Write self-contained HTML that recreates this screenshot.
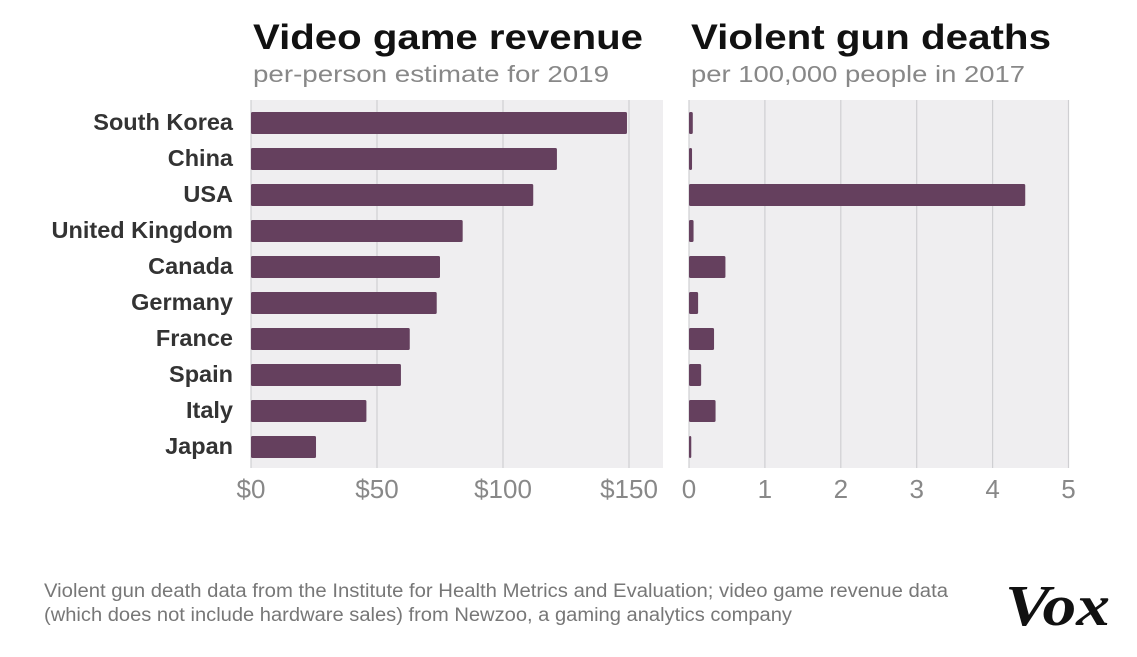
<!DOCTYPE html>
<html><head><meta charset="utf-8"><style>
body{margin:0;background:#fff;width:1137px;height:652px;overflow:hidden;font-family:"Liberation Sans",sans-serif;}
svg text{font-family:"Liberation Sans",sans-serif;}
</style></head><body>
<svg id="c" width="1137" height="652">
<text x="253" y="49" font-size="35" font-weight="bold" fill="#111" textLength="390" lengthAdjust="spacingAndGlyphs">Video game revenue</text>
<text x="253" y="82" font-size="23" fill="#888" textLength="356" lengthAdjust="spacingAndGlyphs">per-person estimate for 2019</text>
<text x="691" y="49" font-size="35" font-weight="bold" fill="#111" textLength="360" lengthAdjust="spacingAndGlyphs">Violent gun deaths</text>
<text x="691" y="82" font-size="23" fill="#888" textLength="334" lengthAdjust="spacingAndGlyphs">per 100,000 people in 2017</text>
<rect x="251" y="100" width="412" height="368" fill="#efeef0"/>
<rect x="689" y="100" width="380" height="368" fill="#efeef0"/>
<g id="g"></g>
<text x="44" y="597" font-size="19" fill="#777" textLength="904" lengthAdjust="spacingAndGlyphs">Violent gun death data from the Institute for Health Metrics and Evaluation; video game revenue data</text>
<text x="44" y="621" font-size="19" fill="#777" textLength="748" lengthAdjust="spacingAndGlyphs">(which does not include hardware sales) from Newzoo, a gaming analytics company</text>
<text x="1005" y="625" font-size="58" font-weight="bold" font-style="italic" fill="#111" style="font-family:'Liberation Serif',serif" textLength="105" lengthAdjust="spacingAndGlyphs">Vox</text>
</svg>
<script>
const countries=["South Korea","China","USA","United Kingdom","Canada","Germany","France","Spain","Italy","Japan"];
const revenue=[149.2,121.4,112,84,75,73.7,63,59.5,45.8,25.8];
const gunDeaths=[0.05,0.04,4.43,0.06,0.48,0.12,0.33,0.16,0.35,0.03];
const revTicks=[0,50,100,150];
const revTickLabels=["$0","$50","$100","$150"];
const gunTicks=[0,1,2,3,4,5];
const gunTickLabels=["0","1","2","3","4","5"];
const NS="http://www.w3.org/2000/svg";
const g=document.getElementById('g');
function mk(t,a){const e=document.createElementNS(NS,t);for(const k in a)e.setAttribute(k,a[k]);g.appendChild(e);return e;}
const yC=i=>123+i*36;
const xL=v=>251+v*(378/150);
const xR=v=>689+v*(379.5/5);
revTicks.forEach((t,i)=>{
 const l=mk('line',{x1:xL(t),x2:xL(t),y1:100,y2:468,stroke:'#cfcfd2','stroke-width':1.2});
 
 
 const tx=mk('text',{x:xL(t),y:498,'font-size':26,fill:'#888','text-anchor':'middle'});
 tx.textContent=revTickLabels[i];
 
 
});
gunTicks.forEach((t,i)=>{
 const l=mk('line',{x1:xR(t),x2:xR(t),y1:100,y2:468,stroke:'#cfcfd2','stroke-width':1.2});
 
 
 const tx=mk('text',{x:xR(t),y:498,'font-size':26,fill:'#888','text-anchor':'middle'});
 tx.textContent=gunTickLabels[i];
 
 
});
countries.forEach((c,i)=>{
 const lb=mk('text',{x:233,y:yC(i)+7,'font-size':23.5,'font-weight':'bold',fill:'#333','text-anchor':'end'});
 lb.textContent=c;
 
 
 const b=mk('rect',{x:251,y:yC(i)-11,width:xL(revenue[i])-251,height:22,rx:1.5,fill:'#65405e'});
 
 
 const b2=mk('rect',{x:689,y:yC(i)-11,width:Math.max(2,xR(gunDeaths[i])-689),height:22,rx:1.5,fill:'#65405e'});
 
 
});
</script>
</body></html>
